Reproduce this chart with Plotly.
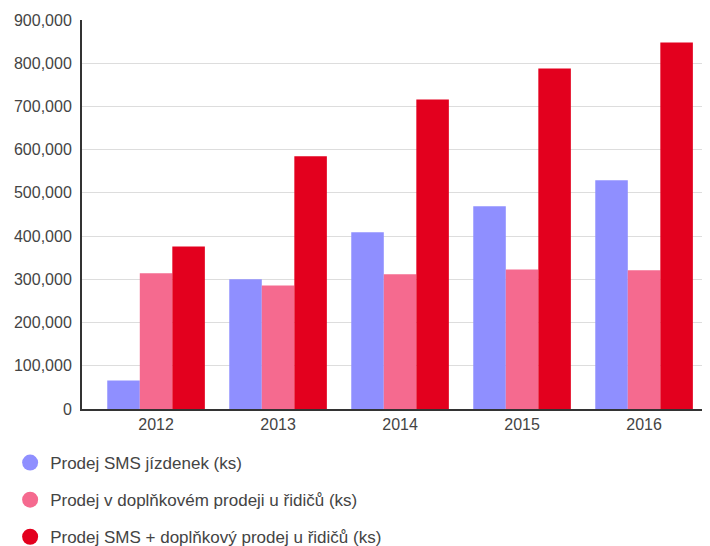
import plotly.graph_objects as go

years = ["2012", "2013", "2014", "2015", "2016"]
sms_tickets = [66000, 300000, 409000, 469000, 529000]
driver_sales = [314000, 286000, 312000, 323000, 321000]
combined_sales = [376000, 585000, 716000, 788000, 848000]

series_names = [
    "Prodej SMS jízdenek (ks)",
    "Prodej v doplňkovém prodeji u řidičů (ks)",
    "Prodej SMS + doplňkový prodej u řidičů (ks)",
]
colors = ["#8f8fff", "#f56a8f", "#e3001e"]
series_values = [sms_tickets, driver_sales, combined_sales]

fig = go.Figure()
for name, values, color in zip(series_names, series_values, colors):
    fig.add_trace(
        go.Bar(
            x=years,
            y=values,
            name=name,
            marker=dict(color=color, line=dict(width=0)),
            showlegend=False,
        )
    )

# circle legend entries
for i, (name, color) in enumerate(zip(series_names, colors)):
    fig.add_trace(
        go.Scatter(
            x=[None],
            y=[None],
            mode="markers",
            name=name,
            legendgroup=f"g{i}",
            marker=dict(color=color, size=20, symbol="circle"),
        )
    )

# the page body adds an 8px offset, margins account for it
fig.update_layout(
    width=710,
    height=546,
    margin=dict(l=74, r=0, t=12, b=145, autoexpand=False),
    paper_bgcolor="white",
    plot_bgcolor="white",
    font=dict(family="Liberation Sans, Arial, sans-serif", size=16, color="#444444"),
    barmode="group",
    bargap=0.2,
    bargroupgap=0,
    legend=dict(
        x=-0.113,
        y=-0.0925,
        xanchor="left",
        yanchor="top",
        orientation="v",
        tracegroupgap=12,
        font=dict(size=17, color="#444444"),
        itemwidth=30,
    ),
)
fig.update_xaxes(
    type="category",
    range=[-0.607, 4.606],
    showline=True,
    linecolor="#333333",
    linewidth=2,
    showgrid=False,
    ticks="",
    tickfont=dict(size=16, color="#444444"),
)
fig.update_yaxes(
    range=[0, 900000],
    dtick=100000,
    tickformat=",",
    showline=True,
    linecolor="#333333",
    linewidth=2,
    showgrid=True,
    gridcolor="#dddddd",
    gridwidth=1,
    zeroline=False,
    ticks="",
    ticklabelstandoff=5,
    tickfont=dict(size=16, color="#444444"),
)

fig.write_html("out.html")
